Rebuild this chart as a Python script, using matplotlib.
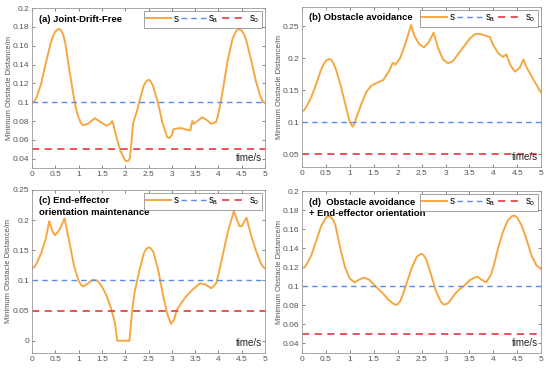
import matplotlib
matplotlib.use('Agg')
import matplotlib.pyplot as plt

plt.rcParams['font.family'] = ['Liberation Sans', 'DejaVu Sans']

# (a) Joint-Drift-Free
t_a = [0, 0.05, 0.1, 0.2, 0.3, 0.4, 0.45, 0.5, 0.57, 0.62, 0.67, 0.72, 0.8, 0.9, 0.95,
       1.0, 1.05, 1.1, 1.2, 1.35, 1.5, 1.6, 1.68, 1.72, 1.75, 1.8, 1.9, 2.0, 2.05,
       2.1, 2.13, 2.17, 2.25, 2.3, 2.4, 2.45, 2.5, 2.55, 2.6, 2.7, 2.8, 2.9, 2.95,
       3.0, 3.03, 3.1, 3.2, 3.3, 3.4, 3.42, 3.44, 3.47, 3.55, 3.65, 3.75, 3.85, 3.95,
       4.0, 4.05, 4.1, 4.2, 4.3, 4.37, 4.43, 4.5, 4.55, 4.6, 4.7, 4.8, 4.9, 4.95, 5.0]
s_a = [0.099, 0.101, 0.105, 0.12, 0.142, 0.162, 0.17, 0.175, 0.178, 0.177, 0.172,
       0.162, 0.135, 0.105, 0.092, 0.084, 0.078, 0.0755, 0.077, 0.083, 0.078, 0.075,
       0.077, 0.08, 0.076, 0.065, 0.048, 0.038, 0.037, 0.04, 0.055, 0.078, 0.09,
       0.1, 0.118, 0.122, 0.124, 0.122, 0.117, 0.1, 0.078, 0.063, 0.062, 0.065,
       0.071, 0.072, 0.0725, 0.071, 0.070, 0.076, 0.08, 0.077, 0.08, 0.084, 0.081,
       0.077, 0.079, 0.088, 0.1, 0.115, 0.145, 0.167, 0.175, 0.178, 0.176, 0.172,
       0.165, 0.145, 0.123, 0.106, 0.101, 0.099]

# (b) Obstacle avoidance
t_b = [0, 0.05, 0.1, 0.2, 0.3, 0.4, 0.45, 0.5, 0.56, 0.62, 0.7, 0.8, 0.9, 1.0,
       1.06, 1.1, 1.15, 1.25, 1.35, 1.45, 1.55, 1.7, 1.82, 1.9, 1.95, 2.05, 2.15,
       2.28, 2.35, 2.45, 2.55, 2.65, 2.75, 2.85, 2.95, 3.05, 3.15, 3.2, 3.35, 3.5,
       3.6, 3.65, 3.72, 3.8, 3.93, 4.0, 4.1, 4.15, 4.2, 4.27, 4.35, 4.45, 4.55,
       4.63, 4.7, 4.85, 5.0]
s_b = [0.117, 0.119, 0.125, 0.14, 0.16, 0.182, 0.19, 0.196, 0.199, 0.197, 0.185,
       0.16, 0.13, 0.1, 0.093, 0.098, 0.11, 0.13, 0.148, 0.157, 0.161, 0.166, 0.18,
       0.193, 0.19, 0.2, 0.22, 0.252, 0.235, 0.222, 0.217, 0.225, 0.24, 0.215,
       0.198, 0.192, 0.195, 0.2, 0.215, 0.23, 0.237, 0.238, 0.238, 0.236, 0.233,
       0.22, 0.208, 0.205, 0.202, 0.206, 0.19, 0.179, 0.185, 0.198, 0.185, 0.165,
       0.146]

# (c) End-effector orientation maintenance
t_c = [0, 0.05, 0.1, 0.2, 0.3, 0.37, 0.45, 0.5, 0.6, 0.7, 0.8, 0.9, 1.0, 1.05,
       1.1, 1.2, 1.3, 1.4, 1.5, 1.6, 1.7, 1.78, 1.83, 2.09, 2.15, 2.2, 2.3, 2.4,
       2.45, 2.5, 2.55, 2.6, 2.7, 2.8, 2.9, 2.98, 3.05, 3.1, 3.2, 3.3, 3.45, 3.6,
       3.7, 3.85, 3.95, 4.0, 4.1, 4.2, 4.33, 4.45, 4.5, 4.6, 4.7, 4.8, 4.9, 4.95,
       5.0]
s_c = [0.12, 0.122, 0.128, 0.145, 0.17, 0.198, 0.18, 0.175, 0.185, 0.203, 0.165,
       0.125, 0.1, 0.093, 0.09, 0.095, 0.101, 0.1, 0.09, 0.075, 0.053, 0.03, 0.0,
       0.0, 0.05, 0.08, 0.115, 0.145, 0.152, 0.155, 0.153, 0.148, 0.12, 0.08,
       0.045, 0.028, 0.035, 0.05, 0.062, 0.073, 0.085, 0.095, 0.094, 0.087, 0.095,
       0.11, 0.145, 0.18, 0.215, 0.19, 0.19, 0.204, 0.175, 0.15, 0.13, 0.123, 0.12]

# (d) Obstacle avoidance + End-effector orientation
t_d = [0, 0.05, 0.1, 0.2, 0.3, 0.4, 0.5, 0.57, 0.65, 0.7, 0.8, 0.9, 1.0, 1.1, 1.2,
       1.3, 1.4, 1.5, 1.6, 1.7, 1.8, 1.9, 1.95, 2.0, 2.05, 2.1, 2.2, 2.3, 2.4, 2.45,
       2.5, 2.55, 2.6, 2.7, 2.8, 2.9, 2.95, 3.0, 3.05, 3.1, 3.2, 3.3, 3.4, 3.5, 3.6,
       3.67, 3.75, 3.85, 3.95, 4.0, 4.1, 4.2, 4.3, 4.4, 4.45, 4.5, 4.6, 4.7, 4.8,
       4.9, 4.95, 5.0]
s_d = [0.1186, 0.12, 0.123, 0.133, 0.148, 0.163, 0.172, 0.174, 0.17, 0.164, 0.14,
       0.12, 0.108, 0.104, 0.107, 0.109, 0.107, 0.102, 0.097, 0.092, 0.086, 0.082,
       0.0805, 0.081, 0.084, 0.09, 0.105, 0.12, 0.131, 0.133, 0.134, 0.132, 0.128,
       0.112, 0.095, 0.084, 0.081, 0.081, 0.082, 0.085, 0.092, 0.097, 0.101, 0.106,
       0.109, 0.11, 0.107, 0.104, 0.112, 0.12, 0.14, 0.157, 0.169, 0.174, 0.174,
       0.172, 0.163, 0.148, 0.132, 0.122, 0.12, 0.118]

safe_dist = 0.1      # s_a
min_dist = 0.05      # s_o

titles = ['(a) Joint-Drift-Free', '(b) Obstacle avoidance',
          '(c) End-effector\norientation maintenance',
          '(d)  Obstacle avoidance\n+ End-effector orientation']
ylims = [(0.03, 0.2), (0.03, 0.28), (-0.02, 0.25), (0.03, 0.2)]
yticks = [[0.04, 0.06, 0.08, 0.1, 0.12, 0.14, 0.16, 0.18, 0.2],
          [0.05, 0.1, 0.15, 0.2, 0.25],
          [0, 0.05, 0.1, 0.15, 0.2, 0.25],
          [0.04, 0.06, 0.08, 0.1, 0.12, 0.14, 0.16, 0.18, 0.2]]
xticks = [0, 0.5, 1, 1.5, 2, 2.5, 3, 3.5, 4, 4.5, 5]

# axes rectangles [left, bottom, width, height] in figure fraction
rects = [[0.058, 0.547, 0.424, 0.431],
         [0.549, 0.550, 0.435, 0.431],
         [0.058, 0.049, 0.424, 0.439],
         [0.549, 0.049, 0.435, 0.436]]

orange = '#F5A742'
blue = '#5A8BEA'
red = '#E8474E'
gray = '#555555'

fig = plt.figure(figsize=(5.5, 3.71), dpi=100)

data = [(t_a, s_a), (t_b, s_b), (t_c, s_c), (t_d, s_d)]
for i, (t, s) in enumerate(data):
    ax = fig.add_axes(rects[i])
    ax.plot(t, s, color=orange, lw=1.4, label='s', solid_joinstyle='round')
    ax.axhline(safe_dist, color=blue, lw=1.0, ls=(0, (4, 3)), label=r'$\mathregular{s_a}$')
    ax.axhline(min_dist, color=red, lw=1.3, ls=(0, (4, 3)), label=r'$\mathregular{s_o}$')
    ax.set_xlim(0, 5)
    ax.set_ylim(*ylims[i])
    ax.set_xticks(xticks)
    ax.set_xticklabels(['0', '0.5', '1', '1.5', '2', '2.5', '3', '3.5', '4', '4.5', '5'])
    ax.set_yticks(yticks[i])
    ax.set_yticklabels([('%g' % v) for v in yticks[i]])
    ax.tick_params(direction='in', length=2.5, width=0.5, labelsize=6,
                   colors=gray, top=True, right=True, pad=2)
    for sp in ax.spines.values():
        sp.set_color('#999999')
        sp.set_linewidth(0.6)
    ax.set_ylabel('Minimum Obstacle Distance/m', fontsize=5.5, color=gray, labelpad=0)
    ax.text(0.03, 0.96, titles[i], transform=ax.transAxes, fontsize=6.8,
            fontweight='bold', va='top', ha='left', linespacing=1.3)
    ax.text(0.985, 0.03, 'time/s', transform=ax.transAxes, fontsize=7,
            va='bottom', ha='right', color='#222222')
    leg = ax.legend(loc='upper right', ncol=3, fontsize=7, frameon=True,
                    fancybox=False, borderaxespad=0.3, handlelength=2.6,
                    handletextpad=0.2, columnspacing=0.3, borderpad=0.25)
    leg.get_frame().set_edgecolor('#777777')
    leg.get_frame().set_linewidth(0.6)

fig.savefig('out.png', dpi=100)
